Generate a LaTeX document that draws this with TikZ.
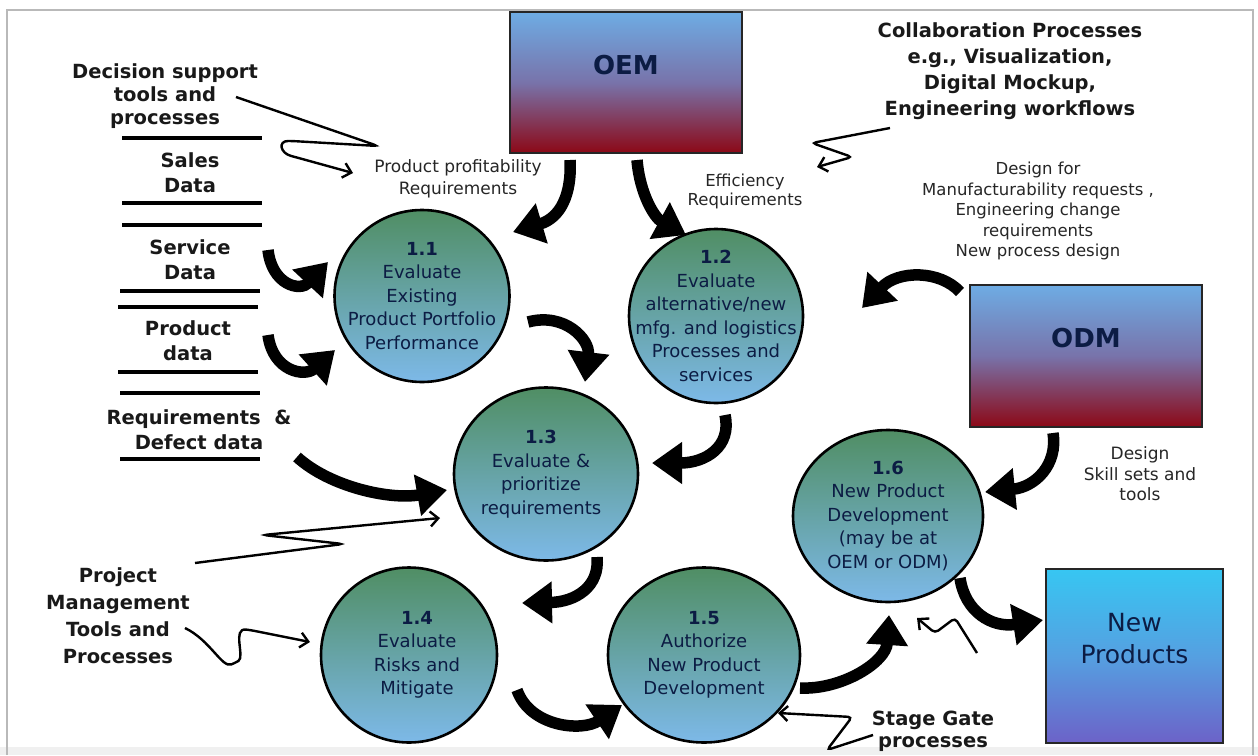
\documentclass[tikz,border=0pt]{standalone}
\usepackage{fontspec}
\setmainfont{DejaVu Sans}
\usetikzlibrary{shapes.geometric,arrows.meta,calc}
\definecolor{ctop}{RGB}{80,142,100}
\definecolor{cbot}{RGB}{125,185,232}
\definecolor{navy}{RGB}{12,28,68}
\definecolor{btop}{RGB}{110,172,228}
\definecolor{bmid}{RGB}{120,115,170}
\definecolor{bbot}{RGB}{140,8,22}
\definecolor{ntop}{RGB}{55,198,242}
\definecolor{nmid}{RGB}{85,160,225}
\definecolor{nbot}{RGB}{108,98,200}
\begin{document}
\begin{tikzpicture}[x=1pt,y=-1pt,
 proc/.style={ellipse, draw=black, line width=2.6pt, top color=ctop, bottom color=cbot, inner sep=0pt},
 ptext/.style={font=\fontsize{18}{23.5}\selectfont, text=navy, align=center},
 blabel/.style={font=\bfseries\fontsize{19.5}{25}\selectfont, align=center, text=black!90},
 clabel/.style={font=\fontsize{17}{21}\selectfont, align=center, text=black!85},
 entity/.style={rectangle, draw=black!85, line width=2pt, top color=btop, bottom color=bbot, middle color=bmid, inner sep=0pt},
 fat/.style={line width=11.5pt, -{Triangle[length=30pt,width=40pt]}},
 squig/.style={line width=2.4pt, rounded corners=4pt, -{Straight Barb[length=8pt,width=15pt]}},
 bar/.style={line width=4pt}
]
\useasboundingbox (0,0) rectangle (1258,755);
\fill[white] (0,0) rectangle (1258,755);
\fill[gray!12] (0,747) rectangle (1258,755);
\draw[gray!55, line width=1.2pt] (7,755) -- (7,10) -- (1253,10) -- (1253,755);

% entity boxes
\node[entity, minimum width=232pt, minimum height=141pt,
  label={[yshift=17pt,font=\bfseries\fontsize{26}{30}\selectfont,text=navy]center:OEM}] (oem) at (626,82.5) {};
\node[entity, minimum width=232pt, minimum height=142pt,
  label={[yshift=18pt,font=\bfseries\fontsize{26}{30}\selectfont,text=navy]center:ODM}] (odm) at (1086,356) {};
\node[rectangle, draw=black!85, line width=2pt, top color=ntop, bottom color=nbot, middle color=nmid,
  minimum width=177pt, minimum height=174pt,
  label={[yshift=17pt,font=\fontsize{25}{32}\selectfont,text=navy,align=center]center:{New\\Products}}] (newp) at (1134.5,656) {};

% processes
\node[proc, minimum width=175pt, minimum height=172pt,
  label={[ptext]center:{\textbf{1.1}\\Evaluate\\Existing\\Product Portfolio\\Performance}}] (c11) at (422,296) {};
\node[proc, minimum width=174pt, minimum height=174pt,
  label={[ptext]center:{\textbf{1.2}\\Evaluate\\alternative/new\\mfg. and logistics\\Processes and\\services}}] (c12) at (716,316) {};
\node[proc, minimum width=184pt, minimum height=173pt,
  label={[ptext,xshift=-5pt]center:{\textbf{1.3}\\Evaluate \&\\prioritize\\requirements}}] (c13) at (546,474) {};
\node[proc, minimum width=176pt, minimum height=175pt,
  label={[ptext,xshift=8pt]center:{\textbf{1.4}\\Evaluate\\Risks and\\Mitigate}}] (c14) at (409,655) {};
\node[proc, minimum width=192pt, minimum height=175pt,
  label={[ptext]center:{\textbf{1.5}\\Authorize\\New Product\\Development}}] (c15) at (704,655) {};
\node[proc, minimum width=190pt, minimum height=172pt,
  label={[ptext]center:{\textbf{1.6}\\New Product\\Development\\(may be at\\OEM or ODM)}}] (c16) at (888,516) {};

% left data stores and labels
\node[blabel, font=\bfseries\fontsize{19.5}{23}\selectfont] (dec) at (165,96) {Decision support\\tools and\\processes};
\node[blabel] (sales) at (190,172.5) {Sales\\Data};
\node[blabel] (service) at (190,260) {Service\\Data};
\node[blabel] (product) at (188,340.5) {Product\\data};
\node[blabel] (req) at (199,429.5) {Requirements\ \ \&\\Defect data};
\node[blabel, font=\bfseries\fontsize{19.5}{27}\selectfont] (pm) at (118,616) {Project\\Management\\Tools and\\Processes};
\node[blabel, font=\bfseries\fontsize{19.5}{26}\selectfont] (collab) at (1010,71) {Collaboration Processes\\e.g., Visualization,\\Digital Mockup,\\Engineering workflows};
\node[blabel, font=\bfseries\fontsize{19.5}{22}\selectfont] (stage) at (933,731) {Stage Gate\\processes};

\draw[bar] (122,138) -- (262,138);
\draw[bar] (122,203) -- (262,203);
\draw[bar] (122,225) -- (262,225);
\draw[bar] (120,291) -- (260,291);
\draw[bar] (118,307) -- (258,307);
\draw[bar] (118,372) -- (258,372);
\draw[bar] (120,393) -- (260,393);
\draw[bar] (120,459) -- (260,459);

% flow labels
\node[clabel, font=\fontsize{17}{22}\selectfont] (prof) at (458,179) {Product profitability\\Requirements};
\node[clabel, font=\fontsize{16.5}{19.5}\selectfont] (eff) at (745,191.5) {Efficiency\\Requirements};
\node[clabel, font=\fontsize{16.5}{20.5}\selectfont] (dfm) at (1038,211) {Design for\\Manufacturability requests ,\\Engineering change\\requirements\\New process design};
\node[clabel, font=\fontsize{17}{20.5}\selectfont] (dsk) at (1140,474) {Design\\Skill sets and\\tools};

% fat flow arrows
\draw[fat] ($(oem)+(-56,77.5)$) .. controls (572,195) and (560,218) .. ($(c11)+(91,-64)$);
\draw[fat] ($(oem)+(11,77.5)$) .. controls (640,195) and (655,218) .. ($(c12)+(-30,-81)$);
\draw[fat] ($(service)+(78,-10)$) .. controls (272,285) and (300,292) .. ($(c11)+(-94,-34)$);
\draw[fat] ($(product)+(80,-5.5)$) .. controls (273,372) and (305,377) .. ($(c11)+(-87,54)$);
\draw[fat] ($(req)+(98,27.5)$) .. controls (330,487) and (390,500) .. ($(c13)+(-99,16)$);
\draw[fat] ($(c11)+(106,26)$) .. controls (565,312) and (590,340) .. ($(c13)+(39,-92)$);
\draw[fat] ($(c12)+(9,99)$) .. controls (732,447) and (705,463) .. ($(c13)+(106,-11)$);
\draw[fat] ($(odm)+(-126,-64)$) .. controls (940,270) and (898,270) .. ($(c12)+(146,-8)$);
\draw[fat] ($(odm)+(-33,77)$) .. controls (1058,465) and (1035,487) .. ($(c16)+(97,-24)$);
\draw[fat] ($(c13)+(51,83)$) .. controls (600,587) and (575,602) .. ($(c14)+(113,-52)$);
\draw[fat] ($(c14)+(108,35)$) .. controls (530,727) and (582,732) .. ($(c15)+(-82,50)$);
\draw[fat] ($(c15)+(96,33)$) .. controls (842,690) and (886,662) .. ($(c16)+(1,99)$);
\draw[fat] ($(c16)+(72,62)$) .. controls (965,612) and (992,628) .. ($(newp)+(-91.5,-36)$);

% thin squiggle arrows
\draw[squig] ($(dec)+(71,1)$) -- (378,146) -- (292,141) .. controls (278,141) and (280,153) .. (295,157) -- ($(prof)+(-105,-6)$);
\draw[squig] ($(collab)+(-120,57)$) -- (812,143) -- (852,157) -- ($(eff)+(72,-24.5)$);
\draw[squig] ($(pm)+(77,-53)$) -- (343,544) -- (263,535) -- ($(c13)+(-106,44)$);
\draw[squig] ($(pm)+(67,12)$) .. controls (210,640) and (222,668) .. (235,663) .. controls (245,657) and (232,628) .. (250,630) -- ($(c14)+(-99,-13)$);
\draw[squig] ($(stage)+(-60,4)$) -- (827,750) -- (852,717) -- ($(c15)+(74,58)$);
\coordinate (sgfree) at (977,653);
\draw[squig] (sgfree) -- (955,618) -- (935,633) -- ($(c16)+(29,102)$);
\end{tikzpicture}
\end{document}
